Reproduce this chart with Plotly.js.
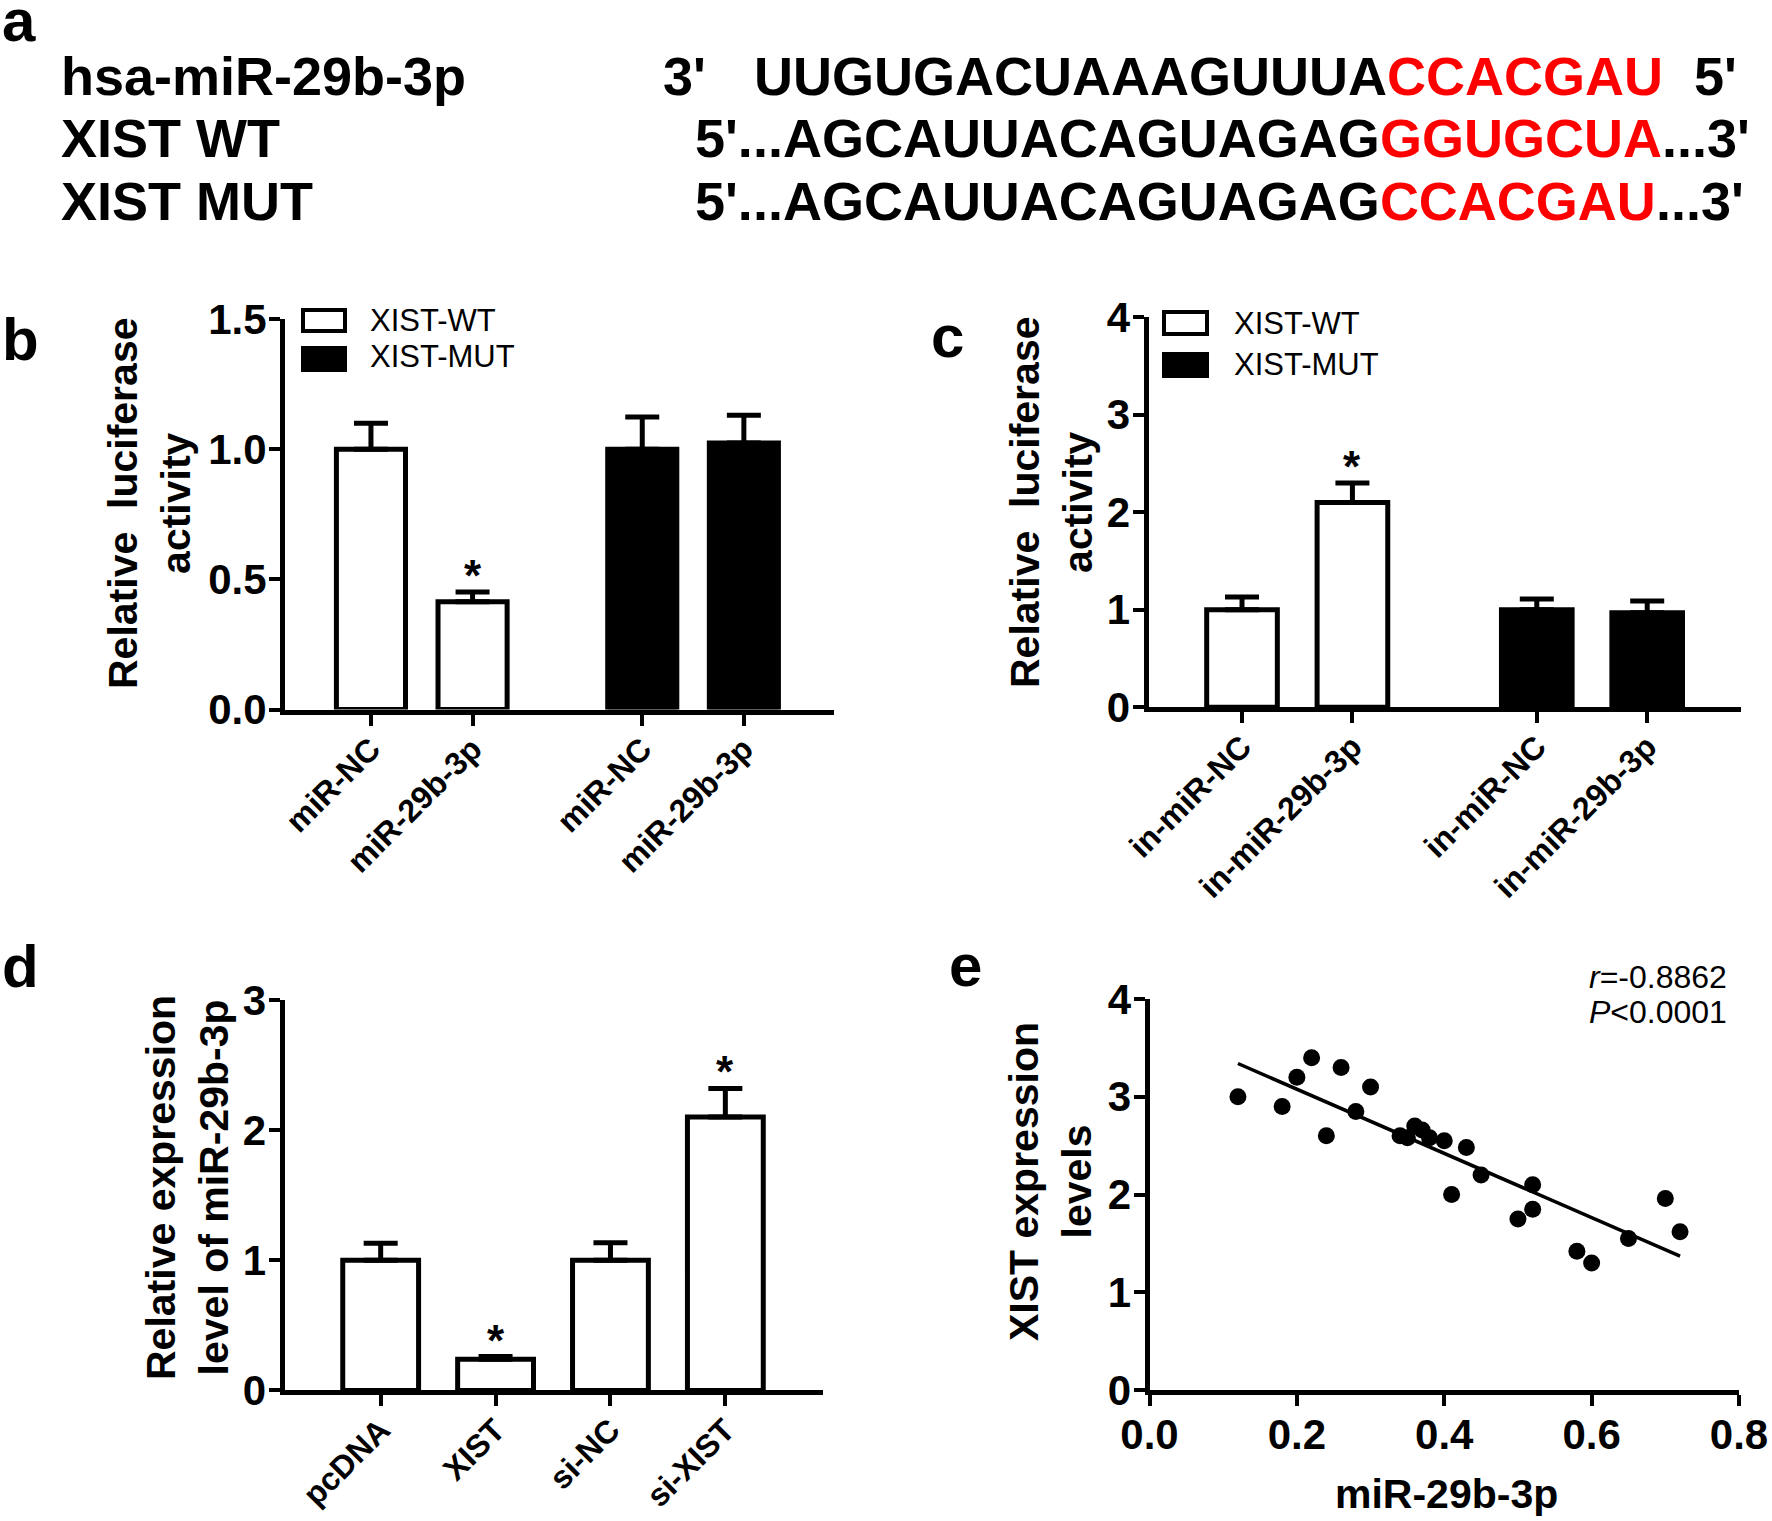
<!DOCTYPE html>
<html>
<head>
<meta charset="utf-8">
<script src="https://cdn.plot.ly/plotly-3.0.1.min.js"></script>
<style>html,body{margin:0;padding:0;background:#fff;}#chart{width:1772px;height:1521px;}</style>
</head>
<body>
<div id="chart"></div>
<script>
// ---------------- DATA ----------------
// Panel a: sequences
const seqLabels = ['hsa-miR-29b-3p', 'XIST WT', 'XIST MUT'];
const seqPrefix = ['UUGUGACUAAAGUUUA', "5'...AGCAUUACAGUAGAG", "5'...AGCAUUACAGUAGAG"];
const seqSeed   = ['CCACGAU', 'GGUGCUA', 'CCACGAU'];
const seqSuffix = ['', "...3'", "...3'"];
const miRStart = "3'";
const miREnd = "5'";

// Panel b
const bCats = ['miR-NC', 'miR-29b-3p'];
const groupNames = ['XIST-WT', 'XIST-MUT'];
const bWT = [1.00, 0.414];
const bWTerr = [0.10, 0.037];
const bWTsig = [false, true];
const bMUT = [1.00, 1.024];
const bMUTerr = [0.124, 0.106];
const bMUTsig = [false, false];

// Panel c
const cCats = ['in-miR-NC', 'in-miR-29b-3p'];
const cWT = [1.00, 2.10];
const cWTerr = [0.13, 0.20];
const cWTsig = [false, true];
const cMUT = [1.00, 0.97];
const cMUTerr = [0.11, 0.12];
const cMUTsig = [false, false];

// Panel d
const dCats = ['pcDNA', 'XIST', 'si-NC', 'si-XIST'];
const dVals = [1.00, 0.24, 1.00, 2.10];
const dErr = [0.13, 0.02, 0.135, 0.22];
const dSig = [false, true, false, true];

// Panel e
const eX = [0.12, 0.18, 0.20, 0.22, 0.24, 0.26, 0.28, 0.30, 0.34, 0.35, 0.36, 0.37, 0.38, 0.40, 0.41, 0.43, 0.45, 0.50, 0.52, 0.52, 0.58, 0.60, 0.65, 0.70, 0.72];
const eY = [3.00, 2.90, 3.20, 3.40, 2.60, 3.30, 2.85, 3.10, 2.60, 2.58, 2.70, 2.66, 2.58, 2.55, 2.00, 2.48, 2.20, 1.75, 2.10, 1.85, 1.42, 1.30, 1.55, 1.96, 1.62];
const fitX = [0.12, 0.72];
const fitY = [3.34, 1.37];
const corrR = '-0.8862';
const corrP = '0.0001';

// ---------------- LAYOUT HELPERS ----------------
const W = 1772, H = 1521;
const FONT = 'Liberation Sans, Arial, Helvetica, sans-serif';
const px = v => v / W;
const py = v => 1 - v / H;
const xdom = (a, b) => [a / W, b / W];
const ydom = (bottom, top) => [1 - bottom / H, 1 - top / H];
const GROUP_GAP = 2.67;
const LW = 5;

const baseAxis = {
  showline: true, linewidth: LW, linecolor: 'black', mirror: false,
  ticks: 'outside', ticklen: 11, tickwidth: 4, tickcolor: 'black',
  showgrid: false, zeroline: false, automargin: false, fixedrange: true,
  ticklabelstandoff: -6,
  tickfont: {family: FONT, size: 42, color: 'black', weight: 700}
};
const catAxis = (extra) => Object.assign({}, baseAxis, {
  tickangle: -45, ticklabelstandoff: -8,
  tickfont: {family: FONT, size: 32, color: 'black', weight: 700}
}, extra);

const traces = [];
const annotations = [];
const shapes = [];

function barTrace(xs, ys, errs, fill, width, xa, ya) {
  return {
    type: 'bar', x: xs, y: ys, width: width, xaxis: xa, yaxis: ya,
    marker: {color: fill, line: {color: 'black', width: LW}},
    error_y: {type: 'data', symmetric: false, array: errs, arrayminus: errs.map(() => 0),
              color: 'black', thickness: LW, width: 17},
    showlegend: false, hoverinfo: 'skip'
  };
}
function stars(xs, ys, errs, sig, xa, ya) {
  sig.forEach((s, i) => {
    if (!s) return;
    annotations.push({
      x: xs[i], y: ys[i] + errs[i], xref: xa, yref: ya, text: '*', showarrow: false,
      xanchor: 'center', yanchor: 'bottom', yshift: -10,
      font: {family: FONT, size: 44, color: 'black', weight: 700}
    });
  });
}
function legendBox(x0, x1, yTop, yBot, fill) {
  shapes.push({type: 'rect', xref: 'paper', yref: 'paper', x0: px(x0), x1: px(x1), y0: py(yBot), y1: py(yTop),
               fillcolor: fill, line: {color: 'black', width: 4}});
}
function label(text, x, y, size, opts) {
  annotations.push(Object.assign({
    text: text, x: px(x), y: py(y), xref: 'paper', yref: 'paper', showarrow: false,
    xanchor: 'left', yanchor: 'middle',
    font: {family: FONT, size: size, color: 'black', weight: 700}
  }, opts || {}));
}

// ---------------- PANEL b ----------------
const bxWT = bCats.map((_, i) => i);
const bxMUT = bCats.map((_, i) => GROUP_GAP + i);
traces.push(barTrace(bxWT, bWT, bWTerr, 'white', 0.68, 'x', 'y'));
traces.push(barTrace(bxMUT, bMUT, bMUTerr, 'black', 0.68, 'x', 'y'));
stars(bxWT, bWT, bWTerr, bWTsig, 'x', 'y');
stars(bxMUT, bMUT, bMUTerr, bMUTsig, 'x', 'y');

// ---------------- PANEL c ----------------
const cxWT = cCats.map((_, i) => i);
const cxMUT = cCats.map((_, i) => GROUP_GAP + i);
traces.push(barTrace(cxWT, cWT, cWTerr, 'white', 0.64, 'x2', 'y2'));
traces.push(barTrace(cxMUT, cMUT, cMUTerr, 'black', 0.64, 'x2', 'y2'));
stars(cxWT, cWT, cWTerr, cWTsig, 'x2', 'y2');
stars(cxMUT, cMUT, cMUTerr, cMUTsig, 'x2', 'y2');

// ---------------- PANEL d ----------------
const dx = dCats.map((_, i) => i);
traces.push(barTrace(dx, dVals, dErr, 'white', 0.66, 'x3', 'y3'));
stars(dx, dVals, dErr, dSig, 'x3', 'y3');

// ---------------- PANEL e ----------------
traces.push({type: 'scatter', mode: 'lines', x: fitX, y: fitY, xaxis: 'x4', yaxis: 'y4',
             line: {color: 'black', width: 3.5}, showlegend: false, hoverinfo: 'skip', cliponaxis: false});
traces.push({type: 'scatter', mode: 'markers', x: eX, y: eY, xaxis: 'x4', yaxis: 'y4',
             marker: {color: 'black', size: 17}, showlegend: false, hoverinfo: 'skip', cliponaxis: false});

// ---------------- TEXT: panel a ----------------
const rowY = [76, 138.5, 201];
label('a', 0, 21, 60);
seqLabels.forEach((t, i) => label(t, 59, rowY[i], 54));
label(miRStart, 661, rowY[0], 54);
label(seqPrefix[0] + '<span style="color:#ff0000">' + seqSeed[0] + '</span>' + seqSuffix[0], 751.5, rowY[0], 54);
label(miREnd, 1692, rowY[0], 54);
for (let i = 1; i < 3; i++) {
  label(seqPrefix[i] + '<span style="color:#ff0000">' + seqSeed[i] + '</span>' + seqSuffix[i], 693, rowY[i], 54);
}

// panel letters
label('b', 0, 339, 60);
label('c', 929, 336, 60);
label('d', 0, 966, 60);
label('e', 947, 965, 60);

// y-axis titles (two-line, rotated)
const ytitle = (text, x, y) => label(text, x, y, 41, {xanchor: 'center', yanchor: 'middle', textangle: -90});
ytitle('Relative\u00A0 luciferase<br>activity', 149, 504);
ytitle('Relative\u00A0 luciferase<br>activity', 1051, 503);
ytitle('Relative expression<br>level of miR-29b-3p', 187, 1188);
ytitle('XIST expression<br>levels', 1050, 1182);
// x-axis title panel e
label('miR-29b-3p', 1446, 1494, 41, {xanchor: 'center'});

// correlation text
label('<i>r</i>=' + corrR, 1587, 977, 32, {font: {family: FONT, size: 32, color: 'black', weight: 400}});
label('<i>P</i>&lt;' + corrP, 1587, 1012, 32, {font: {family: FONT, size: 32, color: 'black', weight: 400}});

// legends (panels b and c)
const legFont = {family: FONT, size: 31, color: 'black', weight: 400};
legendBox(303, 345, 310, 331, 'white');
legendBox(303, 345, 348, 370, 'black');
label(groupNames[0], 368, 320, 31, {font: legFont});
label(groupNames[1], 368, 357, 31, {font: legFont});
legendBox(1164, 1207, 312, 334, 'white');
legendBox(1164, 1207, 354, 376, 'black');
label(groupNames[0], 1232, 323, 31, {font: legFont});
label(groupNames[1], 1232, 364, 31, {font: legFont});

// ---------------- LAYOUT ----------------
const layout = {
  width: W, height: H, autosize: false,
  margin: {l: 0, r: 0, t: 0, b: 0, pad: 0},
  paper_bgcolor: 'white', plot_bgcolor: 'white',
  barmode: 'overlay', showlegend: false,
  font: {family: FONT, color: 'black'},
  xaxis: catAxis({domain: xdom(285, 834), anchor: 'y', range: [-0.846, 4.557],
                  tickvals: bxWT.concat(bxMUT), ticktext: bCats.concat(bCats)}),
  yaxis: Object.assign({}, baseAxis, {domain: ydom(709.5, 319), anchor: 'x', range: [0, 1.5],
                  tickvals: [0, 0.5, 1.0, 1.5], tickformat: '.1f'}),
  xaxis2: catAxis({domain: xdom(1148.5, 1740.6), anchor: 'y2', range: [-0.847, 4.516],
                  tickvals: cxWT.concat(cxMUT), ticktext: cCats.concat(cCats)}),
  yaxis2: Object.assign({}, baseAxis, {domain: ydom(707.3, 317), anchor: 'x2', range: [0, 4],
                  tickvals: [0, 1, 2, 3, 4]}),
  xaxis3: catAxis({domain: xdom(284.5, 822.9), anchor: 'y3', range: [-0.837, 3.849],
                  tickvals: dx, ticktext: dCats}),
  yaxis3: Object.assign({}, baseAxis, {domain: ydom(1390.4, 1000), anchor: 'x3', range: [0, 3],
                  tickvals: [0, 1, 2, 3]}),
  xaxis4: Object.assign({}, baseAxis, {domain: xdom(1149.5, 1739), anchor: 'y4', range: [0, 0.8],
                  tickvals: [0, 0.2, 0.4, 0.6, 0.8], tickformat: '.1f', ticklabelstandoff: -7}),
  yaxis4: Object.assign({}, baseAxis, {domain: ydom(1390, 999), anchor: 'x4', range: [0, 4],
                  tickvals: [0, 1, 2, 3, 4]}),
  annotations: annotations,
  shapes: shapes
};

Plotly.newPlot('chart', traces, layout, {displayModeBar: false, staticPlot: true});
</script>
</body>
</html>
